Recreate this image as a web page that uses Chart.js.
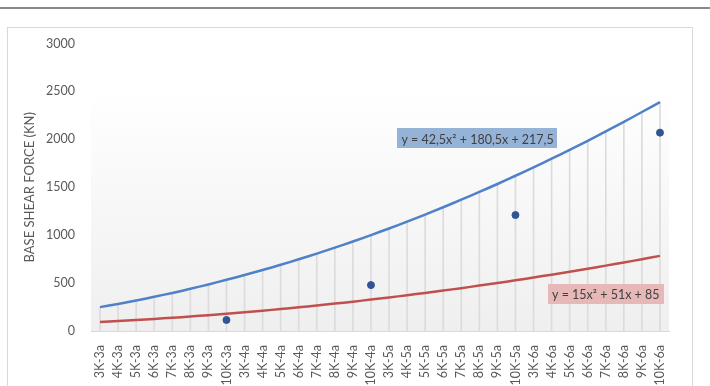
<!DOCTYPE html>
<html>
<head>
<meta charset="utf-8">
<script src="https://cdn.jsdelivr.net/npm/chart.js@4/dist/chart.umd.min.js"></script>
<style>
  html, body { margin: 0; padding: 0; background: #fff; overflow: hidden; }
  .topline { position: absolute; left: 0; top: 7px; width: 710px; height: 0; border-top: 2px solid #8a8a8a; }
  .frame { position: absolute; left: 7px; top: 27px; width: 684px; height: 370px; border: 1px solid #d9d9d9; background: #fff; }
  canvas { display: block; }
</style>
</head>
<body>
<div class="topline"></div>
<div class="frame"><canvas id="c" width="684" height="358"></canvas></div>
<script>
// categorie asse x
const CATEGORIES = [
  "3K-3a","4K-3a","5K-3a","6K-3a","7K-3a","8K-3a","9K-3a","10K-3a",
  "3K-4a","4K-4a","5K-4a","6K-4a","7K-4a","8K-4a","9K-4a","10K-4a",
  "3K-5a","4K-5a","5K-5a","6K-5a","7K-5a","8K-5a","9K-5a","10K-5a",
  "3K-6a","4K-6a","5K-6a","6K-6a","7K-6a","8K-6a","9K-6a","10K-6a"
];
// curva blu (limite superiore)
const UPPER = [
  249, 282, 318, 357, 397, 440, 486, 534,
  584, 636, 691, 748, 808, 870, 934, 1001,
  1070, 1141, 1215, 1291, 1370, 1451, 1534, 1620,
  1707, 1798, 1890, 1985, 2083, 2182, 2285, 2389
];
// curva rossa (limite inferiore)
const LOWER = [
  94, 104, 114, 126, 138, 151, 165, 180,
  195, 212, 229, 247, 266, 286, 306, 328,
  350, 373, 397, 422, 447, 474, 501, 529,
  558, 588, 618, 650, 682, 715, 749, 784
];
// punti misurati (solo sui 10K)
const MEASURED = [
  null, null, null, null, null, null, null, 115,
  null, null, null, null, null, null, null, 479,
  null, null, null, null, null, null, null, 1210,
  null, null, null, null, null, null, null, 2070
];
const Y_TICKS = [0, 500, 1000, 1500, 2000, 2500, 3000];
const EQ_UPPER = "y = 42,5x² + 180,5x + 217,5";
const EQ_LOWER = "y = 15x² + 51x + 85";

const FONT = "Lato, 'Liberation Sans', sans-serif";
const GREY_TXT = "#595959";

// sfondo sfumato dell'area del grafico
const plotBg = {
  id: "plotBg",
  beforeDraw(chart){
    const { ctx, chartArea: a } = chart;
    const g = ctx.createLinearGradient(0, a.top, 0, a.bottom);
    g.addColorStop(0, "#ffffff");
    g.addColorStop(0.15, "#ffffff");
    g.addColorStop(1, "#efefef");
    ctx.save();
    ctx.fillStyle = g;
    ctx.fillRect(a.left, a.top, a.right - a.left, a.bottom - a.top);
    ctx.restore();
  }
};

// etichette equazioni delle linee di tendenza
const eqLabels = {
  id: "eqLabels",
  afterDatasetsDraw(chart){
    const { ctx, scales: { x, y } } = chart;
    const boxes = [
      { text: EQ_UPPER, at: 20.9, val: 2009, fill: "#95b3d7" },
      { text: EQ_LOWER, at: 28.0, val: 383, fill: "#e6b9b8" }
    ];
    ctx.save();
    ctx.font = "12.5px " + FONT;
    ctx.textBaseline = "middle";
    ctx.textAlign = "center";
    boxes.forEach(b => {
      const cx = x.getPixelForValue(b.at), cy = y.getPixelForValue(b.val);
      const w = ctx.measureText(b.text).width + 8, h = 20;
      ctx.fillStyle = b.fill;
      ctx.fillRect(Math.round(cx - w / 2), Math.round(cy - h / 2), Math.round(w), h);
      ctx.fillStyle = "#404040";
      ctx.fillText(b.text, cx, cy + 1);
    });
    ctx.restore();
  }
};

new Chart(document.getElementById("c"), {
  type: "line",
  data: {
    labels: CATEGORIES,
    datasets: [
      { type: "line", label: "Misurati", data: MEASURED, showLine: false,
        pointRadius: 3.5, pointHoverRadius: 3.5, pointBackgroundColor: "#2f5597",
        pointBorderColor: "#2f5597", order: 0 },
      { type: "line", label: "Superiore", data: UPPER, borderColor: "#4f81c7", borderWidth: 2.5,
        pointRadius: 0, tension: 0.3, fill: false, order: 1 },
      { type: "line", label: "Inferiore", data: LOWER, borderColor: "#c0504d", borderWidth: 2.5,
        pointRadius: 0, tension: 0.3, fill: false, order: 2 },
      // linee di proiezione verticali
      { type: "bar", label: "drop", data: UPPER, backgroundColor: "#dcdcdc",
        barThickness: 1, order: 3 }
    ]
  },
  options: {
    responsive: false, animation: false,
    layout: { padding: { top: 13, right: 23, left: 0, bottom: 0 } },
    plugins: { legend: { display: false }, tooltip: { enabled: false } },
    scales: {
      x: {
        offset: true,
        grid: { display: false, offset: true },
        border: { display: true, color: "#d9d9d9", width: 1 },
        ticks: { color: GREY_TXT, font: { family: FONT, size: 12.5 }, minRotation: 90, maxRotation: 90,
          autoSkip: false, padding: 6 },
        afterFit: (s) => { s.height = 55; }
      },
      y: {
        min: 0, max: 3000,
        afterBuildTicks: (s) => { s.ticks = Y_TICKS.map(v => ({ value: v })); },
        grid: { display: false },
        border: { display: false },
        ticks: { color: GREY_TXT, font: { family: FONT, size: 12.5 }, padding: 8,
          callback: (v) => String(v) },
        title: { display: true, text: "BASE SHEAR FORCE (KN)", color: GREY_TXT,
          font: { family: FONT, size: 13 }, padding: { top: 14, bottom: 0 } },
        afterFit: (s) => { s.width = 83; }
      }
    }
  },
  plugins: [plotBg, eqLabels]
});
</script>
</body>
</html>
